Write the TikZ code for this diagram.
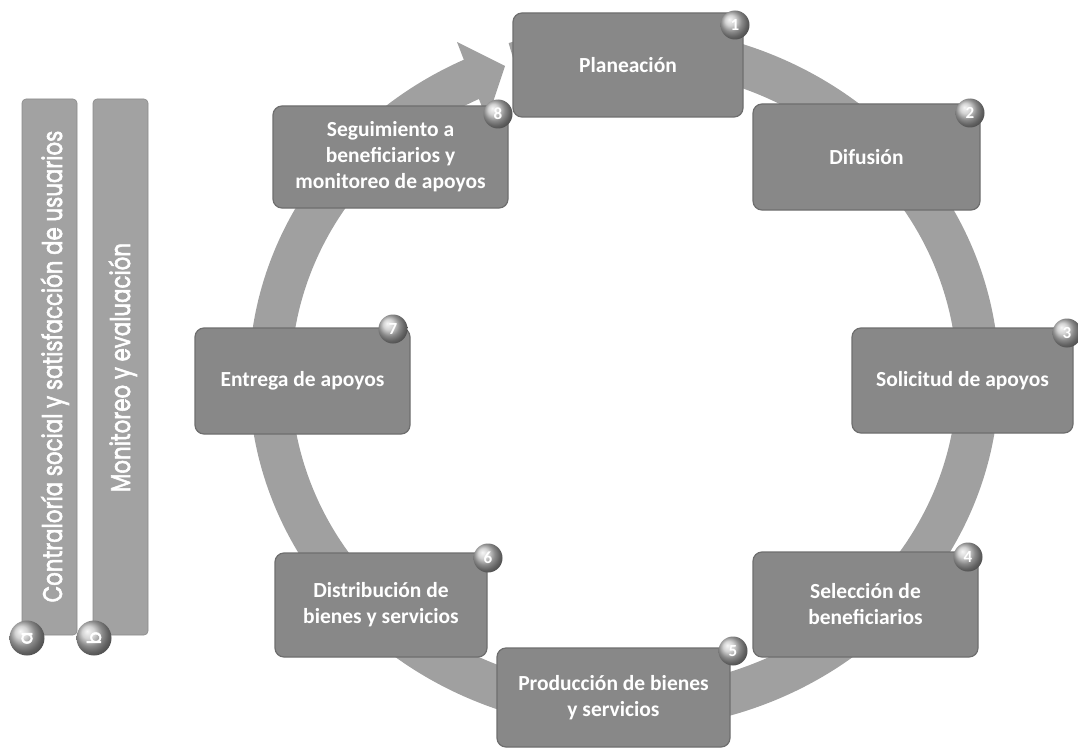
\documentclass[tikz,border=0pt]{standalone}
\usepackage{fontspec}
\setmainfont{Carlito}
\newfontfamily\barfont{Poppins}[FakeBold=2.5]
\definecolor{ringcol}{HTML}{A0A0A0}
\definecolor{boxfill}{HTML}{888888}
\definecolor{boxedge}{HTML}{6E6E6E}
\definecolor{barfill}{HTML}{A2A2A2}
\definecolor{badgecol}{HTML}{C4C4C4}
\begin{document}
\begin{tikzpicture}[x=1pt,y=-1pt,
  stepbox/.style={draw=boxedge, line width=1.2pt, fill=boxfill, rounded corners=9pt,
    text=white, font=\bfseries\fontsize{21.5}{26}\selectfont, align=center, inner sep=0pt},
  badge/.style={circle, ball color=badgecol, minimum size=29pt, inner sep=0pt,
    text=white, font=\bfseries\fontsize{17}{17}\selectfont},
  lbadge/.style={circle, ball color=badgecol, minimum size=35pt, inner sep=0pt,
    text=white, font=\barfont\fontsize{19}{19}\selectfont, rotate=90},
  barbox/.style={fill=barfill, draw=barfill!85!black, line width=0.6pt, rounded corners=4pt, inner sep=0pt},
  bartext/.style={rotate=90, anchor=base, text=white, inner sep=0pt,
    font=\barfont\fontsize{27}{27}\selectfont},
  ring/.style={draw=ringcol, line width=42pt, line cap=butt},
  ringhead/.style={fill=ringcol, draw=none}
]
\useasboundingbox (0,0) rectangle (1078,749);

% cycle ring with arrow head
\coordinate (C) at (624,378);
\draw[ring] (C) ++(252:354 and 331) arc[start angle=252, end angle=607, x radius=354, y radius=331];
\coordinate (ho) at (457,42);
\coordinate (ht) at (505,66);
\coordinate (hi) at (487,120);
\fill[ringhead] (ho) -- (ht) -- (hi) -- cycle;

% left bars
\node[barbox, minimum width=55pt, minimum height=536pt] (ba) at (49.5,367) {};
\node[barbox, minimum width=55pt, minimum height=536pt] (bb) at (120.5,367) {};
\node[bartext] (ta) at (62,366.5) {\scalebox{0.79}[1]{Contraloría social y satisfacción de usuarios}};
\node[bartext] (tb) at (130,367.5) {\scalebox{0.79}[1]{Monitoreo y evaluación}};
\node[lbadge] (la) at (27,638) {a};
\node[lbadge] (lb) at (94,638) {b};

% step boxes
\node[stepbox, minimum width=230pt, minimum height=104pt] (s1) at (628,65) {Planeación};
\node[stepbox, minimum width=227pt, minimum height=106pt] (s2) at (866.5,157) {Difusión};
\node[stepbox, minimum width=221pt, minimum height=105pt] (s3) at (962.5,380.5) {Solicitud de apoyos};
\node[stepbox, minimum width=225pt, minimum height=105pt] (s4) at (865.5,604.5) {Selección de\\beneficiarios};
\node[stepbox, minimum width=233pt, minimum height=99pt] (s5) at (613.5,697.5) {Producción de bienes\\y servicios};
\node[stepbox, minimum width=212pt, minimum height=104pt] (s6) at (381,605) {Distribución de\\bienes y servicios};
\node[stepbox, minimum width=215pt, minimum height=106pt] (s7) at (302.5,381) {Entrega de apoyos};
\node[stepbox, minimum width=235pt, minimum height=102pt] (s8) at (390.5,157) {Seguimiento a\\beneficiarios y\\monitoreo de apoyos};

% number badges
\node[badge] (n1) at (735,25) {1};
\node[badge] (n2) at (970,113) {2};
\node[badge] (n3) at (1067,333) {3};
\node[badge] (n4) at (968,557) {4};
\node[badge] (n5) at (733,651) {5};
\node[badge] (n6) at (488,558) {6};
\node[badge] (n7) at (393,329) {7};
\node[badge] (n8) at (498,114) {8};
\end{tikzpicture}
\end{document}
